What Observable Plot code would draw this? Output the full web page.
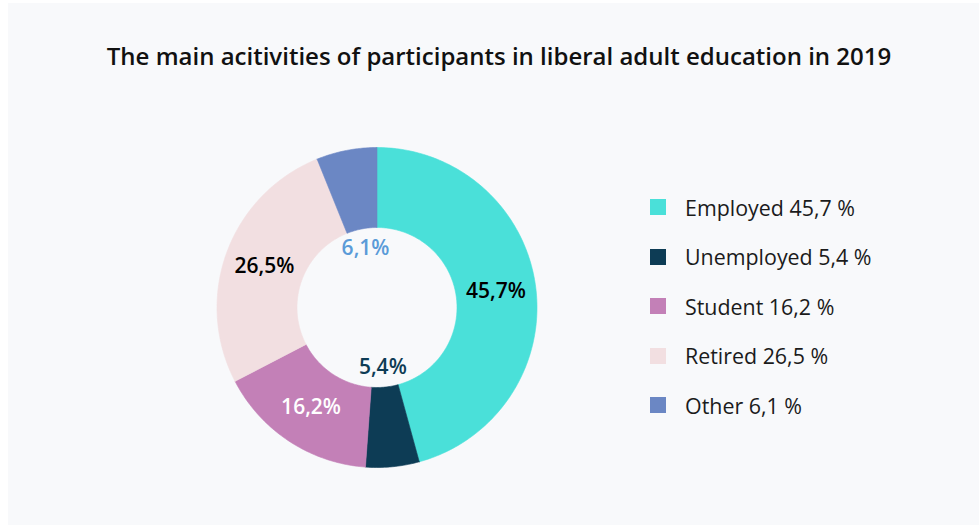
<!DOCTYPE html>
<html>
<head>
<meta charset="utf-8">
<script src="https://cdn.jsdelivr.net/npm/d3@7"></script>
<script src="https://cdn.jsdelivr.net/npm/@observablehq/plot@0.6"></script>
<style>
  html, body { margin: 0; padding: 0; background: #ffffff; }
  body { width: 979px; height: 526px; position: relative; overflow: hidden; font-family: "Open Sans", sans-serif; }
  #panel { position: absolute; left: 8px; top: 3px; width: 971px; height: 522px; background: #f8f9fb; }
  #title { position: absolute; left: 0; top: 38.5px; width: 998px; text-align: center; font-size: 24px; font-weight: 600; color: #111; white-space: nowrap; }
  #chart { position: absolute; left: 0; top: 0; }
  #legend { position: absolute; left: 650px; top: 192.5px; }
  .item { position: absolute; left: 0; display: flex; align-items: center; white-space: nowrap; font-size: 21.4px; color: #1b1b1b; }
  .sw { width: 16px; height: 16px; margin-right: 19px; }
</style>
</head>
<body>
<div id="panel"></div>
<div id="title">The main acitivities of participants in liberal adult education in 2019</div>
<div id="chart"></div>
<div id="legend"></div>
<script>
const categories = ["Employed", "Unemployed", "Student", "Retired", "Other"];
const values = [45.7, 5.4, 16.2, 26.5, 6.1];
const colors = ["#4ae0d9", "#0d3c55", "#c380b7", "#f2dfe1", "#6b87c4"];
const labelColors = ["#000000", "#0d3c55", "#ffffff", "#000000", "#5a9bd8"];
const labelTexts = ["45,7%", "5,4%", "16,2%", "26,5%", "6,1%"];
const legendTexts = ["Employed 45,7 %", "Unemployed 5,4 %", "Student 16,2 %", "Retired 26,5 %", "Other 6,1 %"];

const innerR = 0.5;
const total = d3.sum(values);
const slices = [];
let acc = 0;
categories.forEach((name, i) => {
  const a0 = acc / total * 2 * Math.PI;
  acc += values[i];
  const a1 = acc / total * 2 * Math.PI;
  slices.push({name, i, a0, a1, value: values[i]});
});

// polygon outline of each slice (outer arc forward, inner arc backward)
const pts = [];
for (const s of slices) {
  const n = Math.max(4, Math.ceil((s.a1 - s.a0) / (2 * Math.PI) * 360));
  const ring = [];
  for (let k = 0; k <= n; k++) {
    const a = s.a0 + (s.a1 - s.a0) * k / n;
    ring.push({name: s.name, x: Math.sin(a), y: Math.cos(a)});
  }
  for (let k = n; k >= 0; k--) {
    const a = s.a0 + (s.a1 - s.a0) * k / n;
    ring.push({name: s.name, x: innerR * Math.sin(a), y: innerR * Math.cos(a)});
  }
  ring.push(ring[0]);
  pts.push(...ring);
}

const labels = slices.map(s => {
  const m = (s.a0 + s.a1) / 2;
  const r = s.value < 10 ? 0.375 : 0.75;
  return {text: labelTexts[s.i], color: labelColors[s.i], x: r * Math.sin(m), y: r * Math.cos(m)};
});

const cx = 376.5, cy = 307, R = 160;
const plot = Plot.plot({
  width: 979,
  height: 526,
  margin: 0,
  style: {background: "transparent", overflow: "visible"},
  x: {domain: [-1, 1], range: [cx - R, cx + R], axis: null},
  y: {domain: [-1, 1], range: [cy + R, cy - R], axis: null},
  color: {domain: categories, range: colors},
  marks: [
    Plot.line(pts, {x: "x", y: "y", z: "name", fill: "name", stroke: "name", strokeWidth: 0.6, curve: "linear"}),
    Plot.text(labels, {x: "x", y: "y", text: "text", fill: d => d.color, fontSize: 21, fontWeight: 600, fontFamily: "Open Sans", textAnchor: "middle"})
  ]
});
document.getElementById("chart").appendChild(plot);

const legend = document.getElementById("legend");
categories.forEach((c, i) => {
  const it = document.createElement("div");
  it.className = "item";
  it.style.top = (i * 49.6) + "px";
  const sw = document.createElement("div");
  sw.className = "sw";
  sw.style.background = colors[i];
  const tx = document.createElement("span");
  tx.textContent = legendTexts[i];
  it.appendChild(sw);
  it.appendChild(tx);
  legend.appendChild(it);
});
</script>
</body>
</html>
